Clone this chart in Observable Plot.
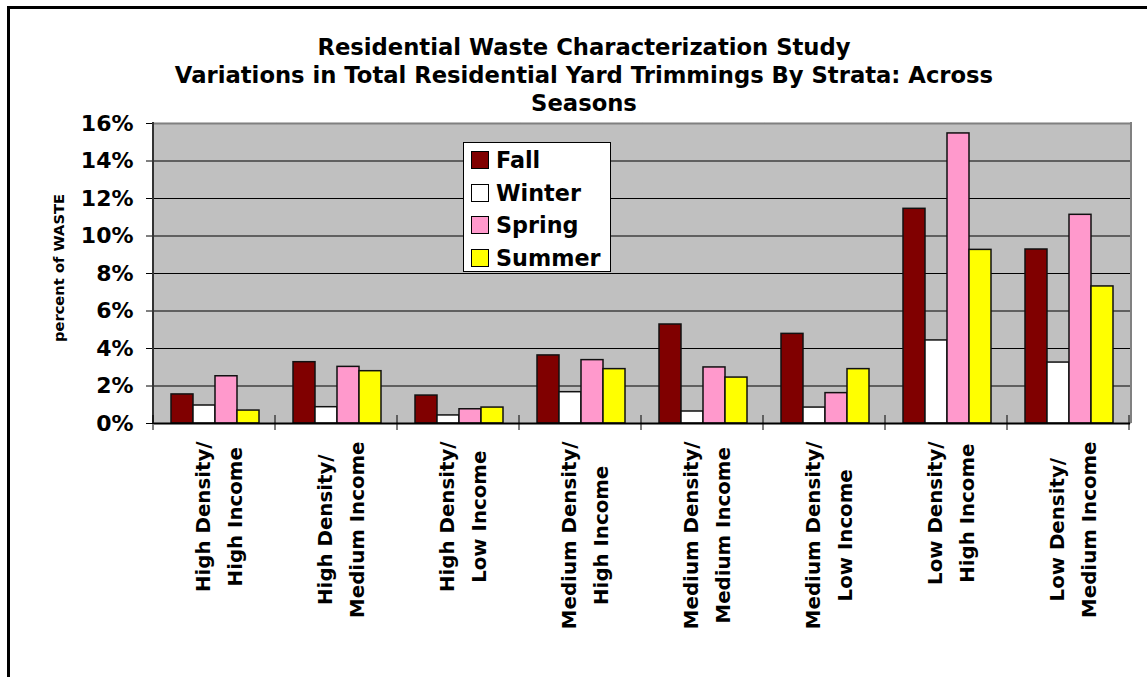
<!DOCTYPE html>
<html><head><meta charset="utf-8">
<script src="https://cdn.jsdelivr.net/npm/d3@7"></script>
<script src="https://cdn.jsdelivr.net/npm/@observablehq/plot@0.6"></script>
<style>
html,body{margin:0;padding:0;overflow:hidden;background:#fff;}
#wrap{position:relative;width:1147px;height:677px;font-family:"DejaVu Sans",sans-serif;font-weight:bold;color:#000;}
#chart{position:absolute;left:0;top:0;}
#frame{position:absolute;left:7px;top:6px;width:1200px;height:700px;border-left:3px solid #000;border-top:3px solid #000;pointer-events:none;}
#title{position:absolute;left:0;width:1168px;top:33px;text-align:center;font-size:22.7px;line-height:28px;white-space:nowrap;}
#ylabel{position:absolute;left:58px;top:268px;transform:translate(-50%,-50%) rotate(-90deg);font-size:14.7px;white-space:nowrap;}
#legend{position:absolute;left:463px;top:142px;width:148px;height:130px;box-sizing:border-box;border:1px solid #000;background:#fff;}
.row{position:absolute;left:0;height:32.5px;display:flex;align-items:center;font-size:22.3px;}
.sw{width:18px;height:18px;box-sizing:border-box;border:1px solid #000;margin-left:7px;margin-right:7px;}
</style>
</head><body>
<div id="wrap">
  <div id="chart"></div>
  <div id="title"></div>
  <div id="ylabel"></div>
  <div id="legend"></div>
  <div id="frame"></div>
</div>
<script>
const titleLines = [
  "Residential Waste Characterization Study",
  "Variations in Total Residential Yard Trimmings By Strata: Across",
  "Seasons"
];
const yLabel = "percent of WASTE";
const labelLine1 = ["High Density/", "High Density/", "High Density/", "Medium Density/", "Medium Density/", "Medium Density/", "Low Density/", "Low Density/"];
const labelLine2 = ["High Income", "Medium Income", "Low Income", "High Income", "Medium Income", "Low Income", "High Income", "Medium Income"];
const strata = labelLine1.map((a, i) => a + " " + labelLine2[i]);
const seasons = ["Fall", "Winter", "Spring", "Summer"];
const seasonColors = ["#800000", "#FFFFFF", "#FF99CC", "#FFFF00"];
const fall   = [1.55, 3.27, 1.49, 3.63, 5.28, 4.78, 11.45, 9.28];
const winter = [0.96, 0.87, 0.43, 1.67, 0.64, 0.85, 4.43, 3.25];
const spring = [2.52, 3.02, 0.76, 3.38, 2.99, 1.62, 15.47, 11.13];
const summer = [0.69, 2.79, 0.85, 2.90, 2.45, 2.90, 9.26, 7.31];
const yTicks = [0, 2, 4, 6, 8, 10, 12, 14, 16];
const gridTicks = [2, 4, 6, 8, 10, 12, 14];

const series = [fall, winter, spring, summer];
const data = [];
strata.forEach((s, i) => seasons.forEach((se, j) => data.push({strata: s, season: se, value: series[j][i]})));

// text measurement for centring the two-line rotated labels
const FONT = "DejaVu Sans";
const LABEL_SIZE = 19.8;
const ctx = document.createElement("canvas").getContext("2d");
ctx.font = `bold ${LABEL_SIZE}px "${FONT}"`;
const maxW = strata.map((s, i) => Math.max(ctx.measureText(labelLine1[i]).width, ctx.measureText(labelLine2[i]).width));

const W = 1147, H = 677;
const chart = Plot.plot({
  width: W, height: H,
  marginLeft: 153, marginRight: 16, marginTop: 123, marginBottom: 254,
  style: {fontFamily: FONT, fontWeight: "bold", background: "transparent", color: "#000"},
  fx: {domain: strata, padding: 0, axis: null, label: null},
  x: {domain: seasons, paddingInner: 0, paddingOuter: 0.75, axis: null, label: null},
  y: {domain: [0, 16], label: null},
  color: {domain: seasons, range: seasonColors},
  marks: [
    Plot.frame({fill: "#C0C0C0", stroke: "#C0C0C0", strokeWidth: 1.2}),
    Plot.ruleY(gridTicks, {stroke: "#000", strokeWidth: 1}),
    Plot.ruleY([16], {stroke: "#808080", strokeWidth: 2}),
    Plot.axisY({ticks: yTicks, tickFormat: d => d + "%", tickSize: 8, tickPadding: 13, fontSize: 22, fontWeight: "bold", label: null, stroke: "#000"}),
    Plot.barY(data, {fx: "strata", x: "season", y: "value", fill: "season", stroke: "#111", strokeWidth: 1.5}),
    Plot.ruleY([0], {stroke: "#000", strokeWidth: 2}),
    ...strata.map((s, i) => Plot.text([s], {
      fx: d => d,
      text: () => labelLine1[i] + "\n" + labelLine2[i],
      frameAnchor: "bottom", textAnchor: "middle", lineAnchor: "middle", rotate: -90,
      lineHeight: 1.62, fontSize: LABEL_SIZE, fontWeight: "bold", fill: "#000",
      dy: 18 + maxW[i] / 2
    }))
  ]
});
document.getElementById("chart").appendChild(chart);

// plot-area border, axis line and category boundary ticks from the plot's own scales
const fxS = chart.scale("fx"), yS = chart.scale("y");
const n = fxS.domain.length;
const x0 = fxS.range[0], x1 = fxS.range[1];
const step = fxS.step || (x1 - x0) / n;
const yTop = yS.range[1], yBot = yS.range[0];
const svg = d3.select(chart);
const g = svg.append("g");
g.append("line").attr("x1", x1).attr("x2", x1).attr("y1", yTop - 1).attr("y2", yBot).attr("stroke", "#808080").attr("stroke-width", 2);
g.append("line").attr("x1", x0).attr("x2", x0).attr("y1", yTop - 1).attr("y2", yBot).attr("stroke", "#333").attr("stroke-width", 2);
for (let i = 0; i <= n; i++) {
  const xx = x0 + i * step;
  g.append("line").attr("x1", xx).attr("x2", xx).attr("y1", yBot - 8).attr("y2", yBot + 7).attr("stroke", "#000").attr("stroke-width", 1);
}

document.getElementById("title").innerHTML = titleLines.join("<br>");
document.getElementById("ylabel").textContent = yLabel;
const leg = document.getElementById("legend");
seasons.forEach((s, i) => {
  const r = document.createElement("div");
  r.className = "row";
  r.style.top = (1 + i * 32.5) + "px";
  r.innerHTML = `<div class="sw" style="background:${seasonColors[i]}"></div><span>${s}</span>`;
  leg.appendChild(r);
});
</script>
</body></html>
